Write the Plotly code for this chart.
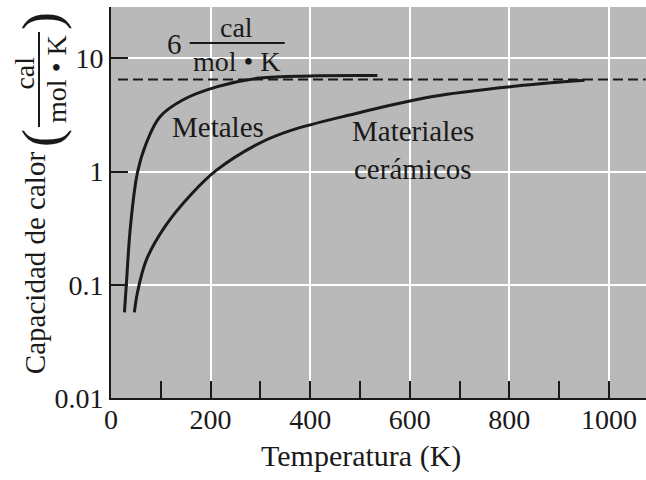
import math
import plotly.graph_objects as go

# ---- data ----
metales_T = [27, 31, 39, 53, 71, 98, 144, 212, 299, 400, 535]
metales_C = [0.057, 0.104, 0.325, 0.975, 1.79, 3.04, 4.29, 5.6, 6.7, 7.0, 7.05]

ceram_T = [47, 53, 71, 108, 164, 212, 299, 360, 479, 646, 815, 951]
ceram_C = [0.057, 0.085, 0.166, 0.325, 0.65, 1.03, 1.79, 2.3, 3.16, 4.6, 5.7, 6.4]

dash_T = [14, 1074]
dash_C = [6.5, 6.5]

x_major = [0, 200, 400, 600, 800, 1000]
x_minor = [100, 300, 500, 700, 900]
y_ticks = [0.01, 0.1, 1, 10]
y_labels = ["0.01", "0.1", "1", "10"]

INK = "#1a1a1a"
BG = "#b9b9b9"
FONT = "Liberation Serif, Times New Roman, DejaVu Serif, serif"

fig = go.Figure()
fig.add_trace(go.Scatter(x=dash_T, y=dash_C, mode="lines",
                         line=dict(color=INK, width=2, dash="10px,5px"),
                         hoverinfo="skip", showlegend=False))
fig.add_trace(go.Scatter(x=metales_T, y=metales_C, mode="lines",
                         line=dict(color=INK, width=3, shape="spline", smoothing=1.0),
                         showlegend=False))
fig.add_trace(go.Scatter(x=ceram_T, y=ceram_C, mode="lines",
                         line=dict(color=INK, width=3, shape="spline", smoothing=1.0),
                         showlegend=False))

ann = []
def A(text, x, y, size, xref="x", yref="y", angle=0):
    if yref == "y":
        y = math.log10(y)
    ann.append(dict(text=text, x=x, y=y, xref=xref, yref=yref, showarrow=False,
                    textangle=angle, xanchor="center", yanchor="middle",
                    font=dict(family=FONT, size=size, color=INK)))

# in-plot labels
A("Metales", 214, 2.48, 29)
A("Materiales", 607, 2.29, 29)
A("cerámicos", 607, 1.06, 29)
A("6", 128, 13.4, 29)
A("cal", 252, 18.9, 28)
A("mol • K", 254, 9.3, 28)

# y-axis title (rotated)
A("Capacidad de calor", -0.142, 0.345, 29, "paper", "paper", -90)
A("(", -0.129, 0.665, 54, "paper", "paper", -90)
A(")", -0.129, 0.964, 54, "paper", "paper", -90)
A("cal", -0.161, 0.832, 28, "paper", "paper", -90)
A("mol • K", -0.101, 0.816, 28, "paper", "paper", -90)

# x-axis title
A("Temperatura (K)", 503, -0.148, 30, "x", "paper")

shapes = [
    dict(type="line", xref="x", yref="y", x0=158, x1=349, y0=13.7, y1=13.7,
         line=dict(color=INK, width=2)),
    dict(type="line", xref="paper", yref="paper", x0=-0.1346, x1=-0.1346,
         y0=0.693, y1=0.936, line=dict(color=INK, width=2)),
]

fig.update_layout(
    width=646, height=480,
    margin=dict(l=111, r=0, t=7, b=82),
    paper_bgcolor="white", plot_bgcolor=BG,
    font=dict(family=FONT, size=28, color=INK),
    annotations=ann, shapes=shapes,
    xaxis=dict(range=[0, 1074.5], tickvals=x_major, ticks="inside", ticklen=17,
               tickwidth=2, tickcolor=INK, showgrid=True, gridcolor="white",
               gridwidth=2, showline=True, linecolor=INK, linewidth=2,
               zeroline=False, tickfont=dict(family=FONT, size=28),
               ticklabelstandoff=-5,
               minor=dict(tickvals=x_minor, ticks="inside", ticklen=17,
                          tickwidth=2, tickcolor=INK, showgrid=False)),
    yaxis=dict(type="log", range=[-2, 1.454], tickvals=y_ticks, ticktext=y_labels,
               ticks="inside", ticklen=17, tickwidth=2, tickcolor=INK,
               showgrid=True, gridcolor="white", gridwidth=2,
               showline=True, linecolor=INK, linewidth=2, zeroline=False,
               tickfont=dict(family=FONT, size=28)),
)

fig.write_html("out.html")
